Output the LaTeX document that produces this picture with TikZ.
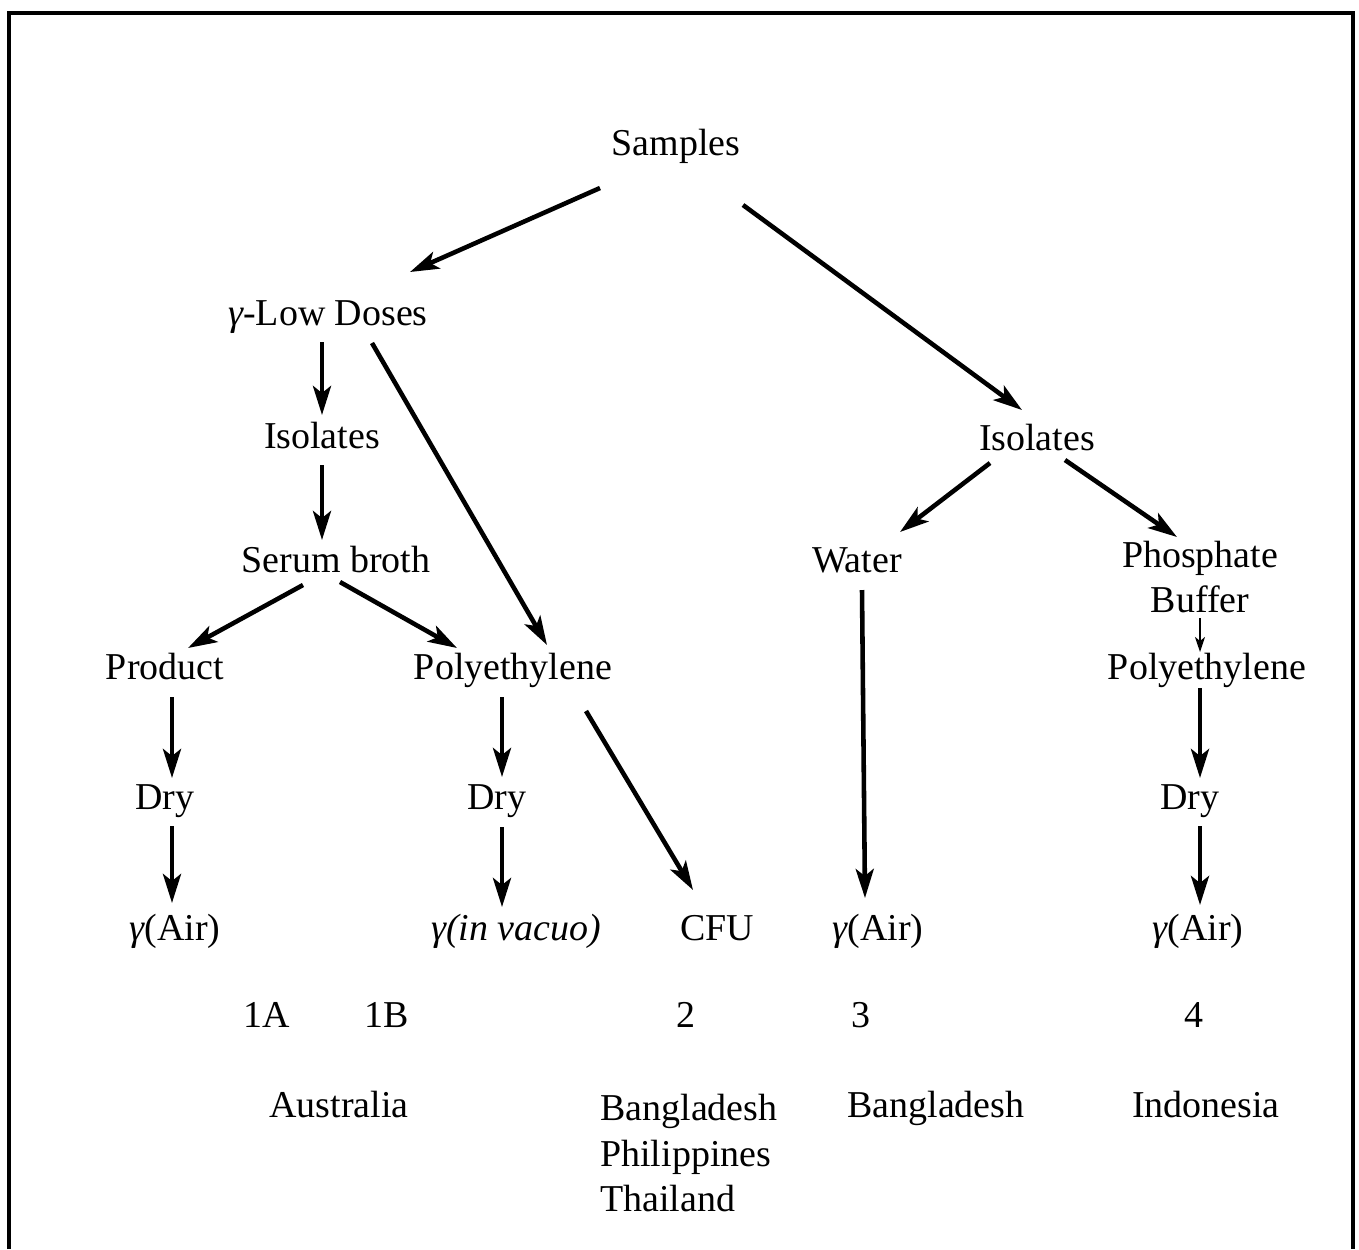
\documentclass[tikz,border=0pt]{standalone}
\usepackage{fontspec}
\setmainfont{Liberation Serif}
\usetikzlibrary{positioning,arrows.meta,calc}

\newcommand{\gam}{{\itshape γ}}

\begin{document}
\begin{tikzpicture}[
  x=0.02cm,y=-0.02cm,
  txt/.style={inner sep=0pt,font=\fontsize{21.6}{25.9}\selectfont,text height=1.36em,text depth=0.2em},
  multi/.style={inner sep=0pt,font=\fontsize{21.6}{25.9}\selectfont,align=#1},
  dep/.style={-{Stealth[length=0.58cm,width=0.36cm,inset=0.14cm]},line width=2.6pt},
  thin/.style={-{Stealth[length=0.3cm,width=0.2cm,inset=0.08cm]},line width=1.2pt},
  frame/.style={line width=2.6pt},
]
\useasboundingbox (0,0) rectangle (1359,1249);

% === FRAME (open at the bottom) ===
\draw[frame] (9,1249) -- (9,13) -- (1353,13) -- (1353,1249);

% === TOP ===
\node[txt] (samp) at (676,145) {Samples};
\node[txt] (low)  at (328,315) {\gam-Low Doses};
\node[txt] (isoR) at (1037,440) {Isolates};

\draw[dep] ($(samp)+(-76,43)$) -- ($(low)+(82,-43)$);
\draw[dep] ($(samp)+(67,60)$) -- ($(isoR)+(-15,-30)$);

% === LEFT BRANCH: low doses ===
\node[txt] (isoL)  at (322,438) {Isolates};
\node[txt] (serum) at (336,562) {Serum broth};
\node[txt] (prod)  at (165,669) {Product};
\node[txt] (polyL) at (513,669) {Polyethylene};
\node[txt] (dryL)  at (165,799) {Dry};
\node[txt] (dryM)  at (497,799) {Dry};
\node[txt] (airL)  at (175,930) {\gam(Air)};
\node[txt] (vac)   at (516,930) {\textit{γ(in vacuo)}};
\node[txt] (cfu)   at (717,930) {CFU};

\draw[dep] ($(low)+(-6,27)$) -- ($(isoL)+(0,-23)$);
\draw[dep] ($(low)+(44,28)$) -- ($(polyL)+(34,-24)$);
\draw[dep] ($(isoL)+(0,27)$) -- ($(serum)+(-14,-22)$);
\draw[dep] ($(serum)+(-33,23)$) -- ($(prod)+(23,-21)$);
\draw[dep] ($(serum)+(4,20)$) -- ($(polyL)+(-56,-21)$);
\draw[dep] ($(prod)+(7,28)$) -- ($(dryL)+(7,-21)$);
\draw[dep] ($(dryL)+(7,27)$) -- ($(airL)+(-3,-27)$);
\draw[dep] ($(polyL)+(-11,28)$) -- ($(dryM)+(5,-22)$);
\draw[dep] ($(dryM)+(5,28)$) -- ($(vac)+(-14,-23)$);
\draw[dep] ($(polyL)+(73,42)$) -- ($(cfu)+(-24,-40)$);

% === RIGHT BRANCH: isolates ===
\node[txt] (water) at (857,562) {Water};
\node[multi=center] (phos) at (1200,577) {Phosphate\\Buffer};
\node[txt] (polyR) at (1207,669) {Polyethylene};
\node[txt] (dryR)  at (1190,799) {Dry};
\node[txt] (airW)  at (878,930) {\gam(Air)};
\node[txt] (airR)  at (1198,930) {\gam(Air)};

\draw[dep] ($(isoR)+(-47,23)$) -- ($(water)+(43,-30)$);
\draw[dep] ($(isoR)+(28,20)$) -- ($(phos)+(-23,-40)$);
\draw[dep] ($(water)+(5,28)$) -- ($(airW)+(-13,-32)$);
\draw[thin] ($(phos)+(0,41)$) -- ($(polyR)+(-7,-17)$);
\draw[dep] ($(polyR)+(-7,19)$) -- ($(dryR)+(10,-21)$);
\draw[dep] ($(dryR)+(10,27)$) -- ($(airR)+(2,-25)$);

% === CASE NUMBERS AND COUNTRIES ===
\node[txt] (n1A) at (267,1017) {1A};
\node[txt] (n1B) at (387,1017) {1B};
\node[txt] (n2)  at (686,1017) {2};
\node[txt] (n3)  at (861,1017) {3};
\node[txt] (n4)  at (1194,1017) {4};

\node[txt] (aus) at (339,1107) {Australia};
\node[multi=left,anchor=west] (asia) at (600,1153) {Bangladesh\\Philippines\\Thailand};
\node[txt] (ban) at (936,1107) {Bangladesh};
\node[txt] (ind) at (1206,1107) {Indonesia};

\end{tikzpicture}
\end{document}
